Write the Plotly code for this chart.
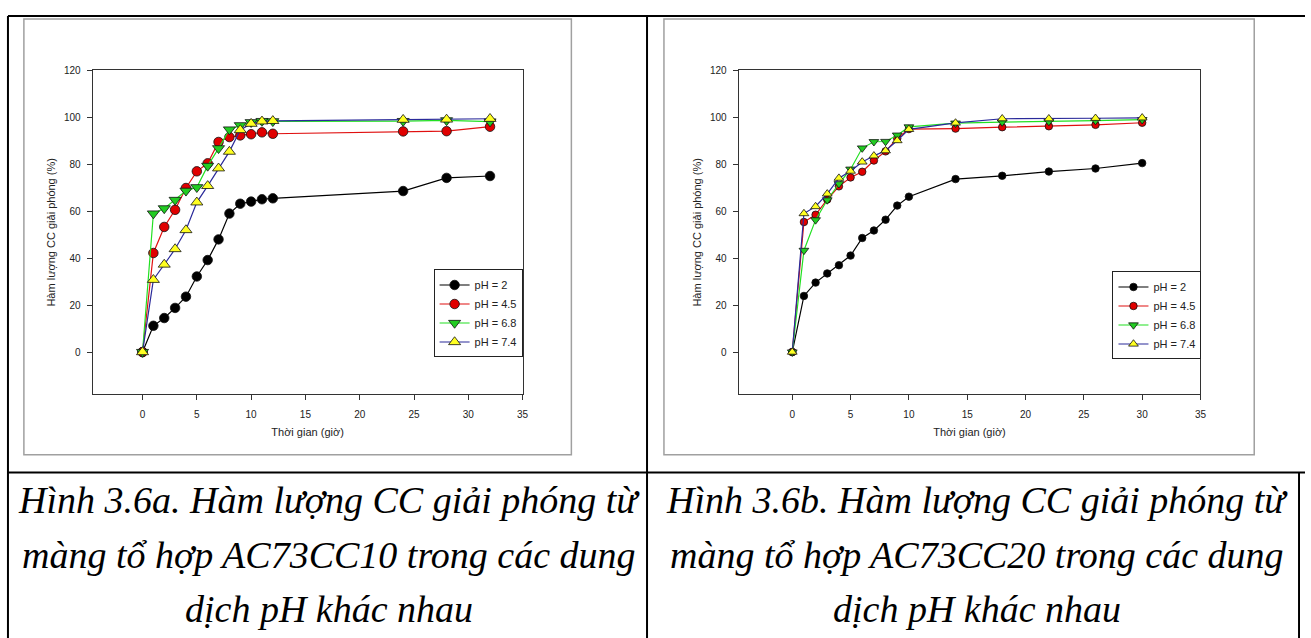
import plotly.graph_objects as go

W, H = 1311, 638

# ---------------- data ----------------
series_names = ["pH = 2", "pH = 4.5", "pH = 6.8", "pH = 7.4"]

time_a = [0, 1, 2, 3, 4, 5, 6, 7, 8, 9, 10, 11, 12, 24, 28, 32]
a_ph2  = [0, 11.2, 14.5, 18.8, 23.6, 32.2, 39.2, 48.0, 59.0, 63.2, 64.1, 65.1, 65.5, 68.6, 74.2, 75.0]
a_ph45 = [0, 42.2, 53.3, 60.6, 69.9, 77.0, 80.4, 89.5, 91.6, 92.3, 92.8, 93.6, 93.0, 94.0, 94.1, 96.0]
a_ph68 = [0, 59.0, 61.2, 64.8, 68.7, 70.2, 79.3, 86.8, 94.8, 96.6, 97.9, 98.4, 98.3, 98.4, 98.7, 98.2]
a_ph74 = [0, 30.8, 37.3, 43.9, 52.0, 63.8, 70.8, 78.3, 85.4, 94.6, 97.3, 98.3, 98.5, 99.0, 99.1, 99.4]

time_b = [0, 1, 2, 3, 4, 5, 6, 7, 8, 9, 10, 14, 18, 22, 26, 30]
b_ph2  = [0, 23.9, 29.6, 33.5, 37.0, 41.1, 48.6, 51.8, 56.4, 62.4, 66.2, 73.7, 75.1, 76.9, 78.2, 80.5]
b_ph45 = [0, 55.4, 58.5, 65.0, 70.6, 74.4, 76.8, 81.6, 85.5, 91.0, 95.0, 95.2, 95.8, 96.2, 96.8, 97.7]
b_ph68 = [0, 43.3, 56.3, 64.8, 71.7, 77.9, 86.9, 89.6, 89.7, 92.4, 95.9, 97.5, 98.0, 98.2, 98.6, 99.0]
b_ph74 = [0, 59.0, 62.0, 67.4, 74.1, 77.1, 81.0, 83.6, 85.8, 90.1, 94.9, 97.6, 99.4, 99.4, 99.6, 99.8]

x_ticks = [0, 5, 10, 15, 20, 25, 30, 35]
y_ticks = [0, 20, 40, 60, 80, 100, 120]

x_title = "Thời gian (giờ)"
y_title = "Hàm lượng CC giải phóng (%)"

caption_a = ["Hình 3.6a. Hàm lượng CC giải phóng từ",
             "màng tổ hợp AC73CC10 trong các dung",
             "dịch pH khác nhau"]
caption_b = ["Hình 3.6b. Hàm lượng CC giải phóng từ",
             "màng tổ hợp AC73CC20 trong các dung",
             "dịch pH khác nhau"]

# ---------------- styles ----------------
line_colors = ["#000000", "#e01010", "#22e022", "#2a2a9a"]
fill_colors = ["#000000", "#e00000", "#22cc22", "#ffff22"]
symbols = ["circle", "circle", "triangle-down", "triangle-up"]
SANS = "Liberation Sans, Arial"


def px_x(p):
    return p / W


def px_y(p):
    return 1 - p / H


fig = go.Figure()

panels = [
    ("x", "y", "legend", time_a, [a_ph2, a_ph45, a_ph68, a_ph74], 9.5, 10.5),
    ("x2", "y2", "legend2", time_b, [b_ph2, b_ph45, b_ph68, b_ph74], 7.5, 8.5),
]
for xa, ya, lg, t, ys, msz, tsz in panels:
    for i, (name, yv) in enumerate(zip(series_names, ys)):
        fig.add_trace(go.Scatter(
            x=t, y=yv, name=name, mode="lines+markers",
            xaxis=xa, yaxis=ya, legend=lg,
            line=dict(color=line_colors[i], width=1.2),
            marker=dict(symbol=symbols[i], color=fill_colors[i],
                        size=(msz if i < 2 else tsz),
                        line=dict(color="#111111", width=0.8)),
        ))

axis_common = dict(
    showgrid=False, zeroline=False, showline=True, linecolor="#333333",
    linewidth=1, mirror=True, ticks="outside", ticklen=5, tickwidth=1,
    tickcolor="#333333", tickfont=dict(family=SANS, size=10, color="#222222"),
)
title_font = dict(family=SANS, size=11, color="#222222")

fig.update_layout(
    width=W, height=H, margin=dict(l=0, r=0, t=0, b=0),
    paper_bgcolor="white", plot_bgcolor="white",
    xaxis=dict(domain=[px_x(93), px_x(525)], anchor="y", range=[-4.6, 35],
               tickvals=x_ticks, ticklabelstandoff=6,
               title=dict(text=x_title, standoff=8, font=title_font),
               **axis_common),
    yaxis=dict(domain=[px_y(392), px_y(65)], anchor="x", range=[-18, 120],
               tickvals=y_ticks, ticklabelstandoff=4,
               title=dict(text=y_title, standoff=6, font=title_font),
               **axis_common),
    xaxis2=dict(domain=[px_x(742), px_x(1206)], anchor="y2", range=[-4.6, 35],
                tickvals=x_ticks, ticklabelstandoff=6,
                title=dict(text=x_title, standoff=8, font=title_font),
                **axis_common),
    yaxis2=dict(domain=[px_y(392), px_y(65)], anchor="x2", range=[-18, 120],
                tickvals=y_ticks, ticklabelstandoff=4,
                title=dict(text=y_title, standoff=6, font=title_font),
                **axis_common),
    legend=dict(x=px_x(525), xanchor="right", y=px_y(266), yanchor="top",
                bordercolor="#222222", borderwidth=1, bgcolor="white",
                font=dict(family=SANS, size=11, color="#222222"),
                itemwidth=30),
    legend2=dict(x=px_x(1207), xanchor="right", y=px_y(268), yanchor="top",
                 bordercolor="#222222", borderwidth=1, bgcolor="white",
                 font=dict(family=SANS, size=11, color="#222222"),
                 itemwidth=30),
    showlegend=True,
)

shapes = []
# gray picture frames
for x0, x1 in [(24, 574), (667, 1260)]:
    shapes.append(dict(type="rect", xref="paper", yref="paper",
                       x0=px_x(x0), x1=px_x(x1), y0=px_y(453), y1=px_y(13),
                       line=dict(color="#a0a0a0", width=1.5), layer="below"))
# table borders
black = dict(color="#000000", width=2)
shapes.append(dict(type="line", xref="paper", yref="paper", x0=px_x(8), x1=1,
                   y0=px_y(10), y1=px_y(10), line=black))
shapes.append(dict(type="line", xref="paper", yref="paper", x0=px_x(8), x1=1,
                   y0=px_y(471), y1=px_y(471), line=black))
for xv in [8, 650, 1305]:
    shapes.append(dict(type="line", xref="paper", yref="paper", x0=px_x(xv), x1=px_x(xv),
                       y0=px_y(10) if xv != 1305 else px_y(471), y1=0, line=black))
fig.update_layout(shapes=shapes)

annotations = []
for cx, lines in [(331, caption_a), (981, caption_b)]:
    for k, txt in enumerate(lines):
        annotations.append(dict(
            text=txt, xref="paper", yref="paper", x=px_x(cx), y=px_y(499 + 55 * k),
            xanchor="center", yanchor="middle", showarrow=False,
            font=dict(family="Liberation Serif, Times New Roman", size=38, color="#000000",
                      style="italic")))
fig.update_layout(annotations=annotations)

fig.write_html("out.html")
